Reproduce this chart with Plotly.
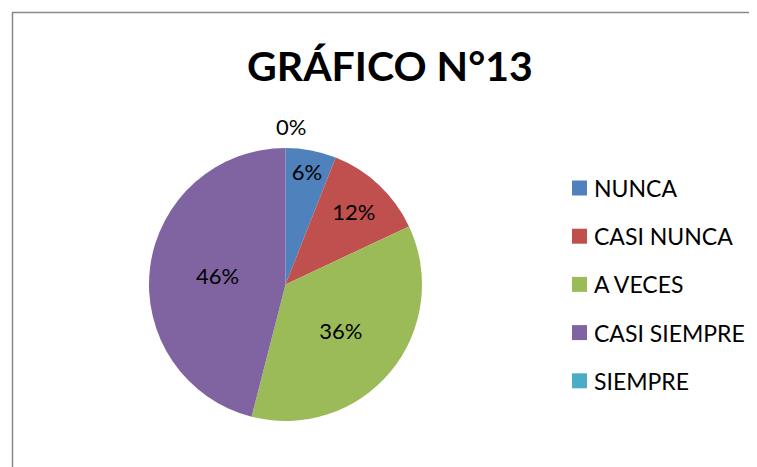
import plotly.graph_objects as go

# ---------data---------
categories = ["NUNCA", "CASI NUNCA", "A VECES", "CASI SIEMPRE", "SIEMPRE"]
counts = [3, 6, 18, 23, 0]
colors = ["#4F81BD", "#C0504D", "#9BBB59", "#8064A2", "#4BACC6"]
title_text = "GRÁFICO N°13"

W, H = 757, 467
OFF = 8  # page body margin
FONT = "Lato, 'Open Sans', sans-serif"


def px(x):
    return (x - OFF) / W


def py(y):
    return 1 - (y - OFF) / H


total = sum(counts)
# zero slices get no inside text; their label goes above the pie like in Excel
templates = ["%{percent:.0%}" if v > 0 else "" for v in counts]

fig = go.Figure()

fig.add_trace(go.Pie(labels=categories, values=counts,
                     marker=dict(colors=colors, line=dict(width=0)),
                     sort=False, direction="clockwise", rotation=0,
                     texttemplate=templates,
                     textposition="inside",
                     insidetextorientation="horizontal",
                     textfont=dict(size=22, color="#000000", family=FONT),
                     domain=dict(x=[px(149), px(422)], y=[py(421), py(148)]),
                     showlegend=False,
                     hoverinfo="label+percent"))

annotations = []
for name, v in zip(categories, counts):
    if v == 0:
        annotations.append(dict(x=px(291), y=py(127), xref="paper", yref="paper",
                                xanchor="center", yanchor="middle",
                                text="%d%%" % round(100 * v / total), showarrow=False,
                                font=dict(size=22, color="#000000", family=FONT)))

# legend built by hand so the rows keep Excel's spacing
shapes = [dict(type="rect", xref="paper", yref="paper",
               x0=px(12.5), y0=py(12.5), x1=px(W + 20), y1=py(H + 20),
               line=dict(color="#888888", width=1.5), fillcolor="rgba(0,0,0,0)")]
for i, (name, c) in enumerate(zip(categories, colors)):
    yc = 188 + i * 48.2
    shapes.append(dict(type="rect", xref="paper", yref="paper",
                       x0=px(572), x1=px(587), y0=py(yc - 7.5), y1=py(yc + 7.5),
                       line=dict(width=0), fillcolor=c))
    annotations.append(dict(x=px(592), y=py(yc), xref="paper", yref="paper",
                            xanchor="left", yanchor="middle", text=name, showarrow=False,
                            font=dict(size=23, color="#000000", family=FONT)))

annotations.append(dict(x=px(390), y=py(65), xref="paper", yref="paper",
                        xanchor="center", yanchor="middle", text="<b>%s</b>" % title_text,
                        showarrow=False, font=dict(size=41, color="#000000", family=FONT)))

fig.update_layout(width=W, height=H, margin=dict(l=0, r=0, t=0, b=0),
                  paper_bgcolor="white", plot_bgcolor="white",
                  shapes=shapes, annotations=annotations)

fig.write_html("out.html")
